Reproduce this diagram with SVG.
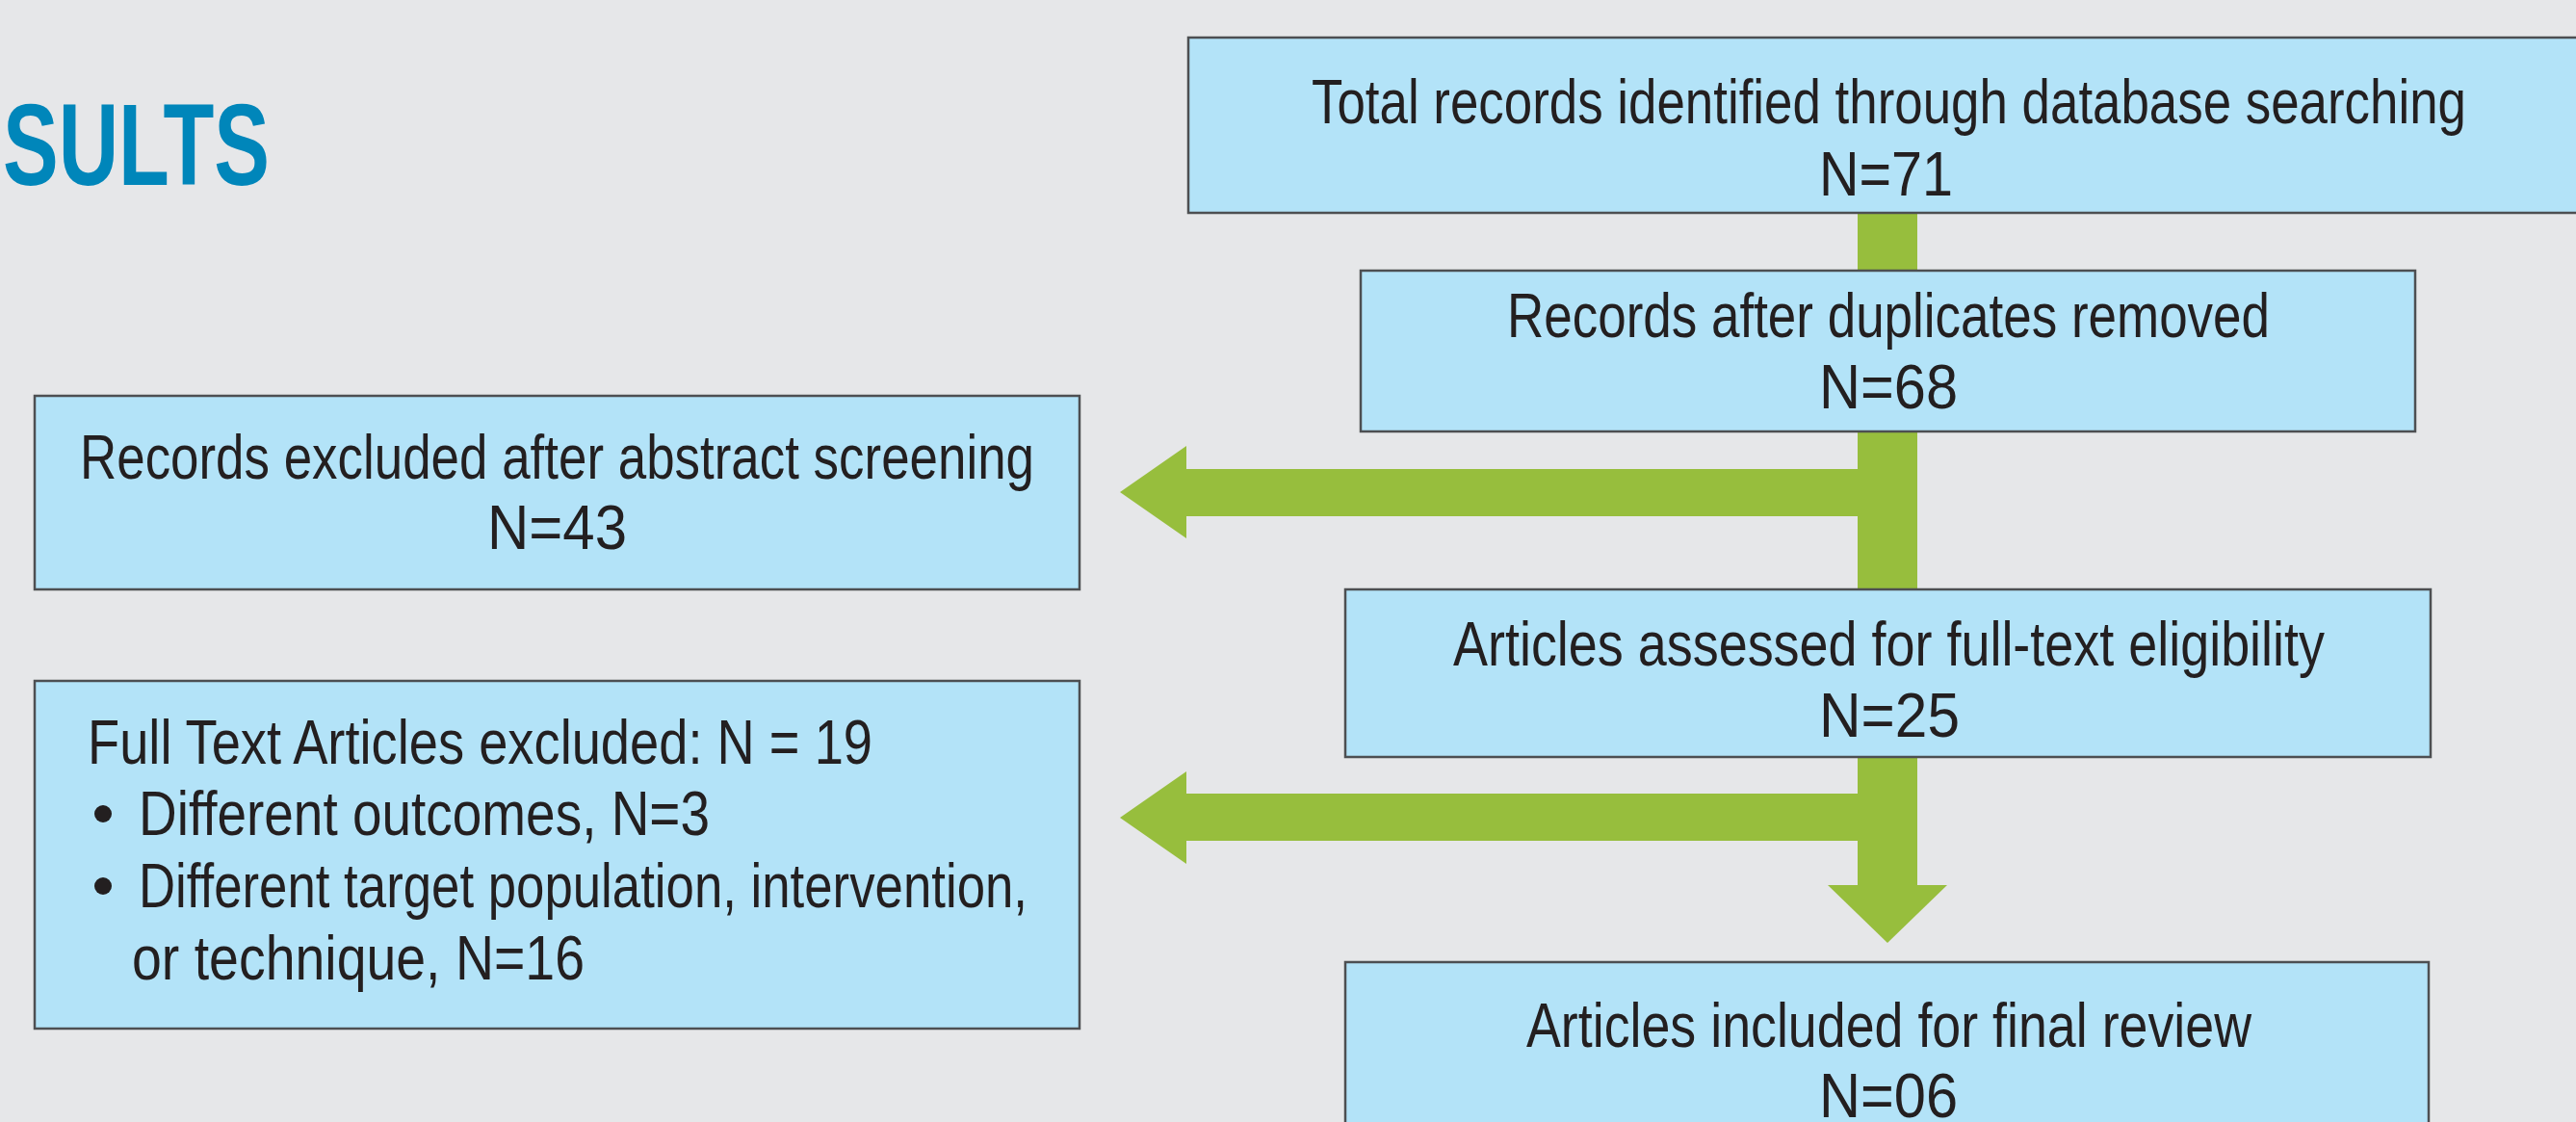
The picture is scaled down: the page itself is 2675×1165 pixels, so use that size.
<svg xmlns="http://www.w3.org/2000/svg" width="2675" height="1165" viewBox="0 0 2675 1165">
  <defs>
    <style>
      .box { fill: #B3E3F8; stroke: #4D4F52; stroke-width: 2.5; }
      .lbl { font-family: "Liberation Sans Narrow", "Liberation Sans", "DejaVu Sans Condensed", sans-serif; font-size: 64px; fill: #231F20; }
      .flow { fill: #97BE3D; }
      .title { font-family: "Liberation Sans Narrow", "Liberation Sans", sans-serif; font-weight: bold; font-size: 121px; fill: #0086BA; }
    </style>
  </defs>

  <!-- page background -->
  <rect x="0" y="0" width="2675" height="1165" fill="#E6E7E9"/>

  <!-- section heading, cut at the left margin -->
  <text class="title" x="3" y="192" textLength="277" lengthAdjust="spacingAndGlyphs">SULTS</text>

  <!-- connectors: central trunk, two side exits, final arrowhead -->
  <g id="connectors">
    <rect class="flow" x="1929" y="221" width="62" height="699"/>
    <path class="flow" d="M1929,487 L1232,487 L1232,463 L1163,511 L1232,559 L1232,536 L1929,536 Z"/>
    <path class="flow" d="M1929,824 L1232,824 L1232,801 L1163,849 L1232,897 L1232,873 L1929,873 Z"/>
    <path class="flow" d="M1898,919 L2022,919 L1960,979 Z"/>
  </g>

  <g id="node-identified">
    <rect class="box" x="1234" y="39" width="1460" height="182"/>
    <text class="lbl" x="1362" y="128" textLength="1199" lengthAdjust="spacingAndGlyphs">Total records identified through database searching</text>
    <text class="lbl" x="1889" y="203" textLength="139" lengthAdjust="spacingAndGlyphs">N=71</text>
  </g>

  <g id="node-deduplicated">
    <rect class="box" x="1413" y="281" width="1095" height="167"/>
    <text class="lbl" x="1565" y="350" textLength="792" lengthAdjust="spacingAndGlyphs">Records after duplicates removed</text>
    <text class="lbl" x="1889" y="424" textLength="144" lengthAdjust="spacingAndGlyphs">N=68</text>
  </g>

  <g id="node-abstract-excluded">
    <rect class="box" x="36" y="411" width="1085" height="201"/>
    <text class="lbl" x="83" y="497" textLength="991" lengthAdjust="spacingAndGlyphs">Records excluded after abstract screening</text>
    <text class="lbl" x="506" y="570" textLength="145" lengthAdjust="spacingAndGlyphs">N=43</text>
  </g>

  <g id="node-fulltext-assessed">
    <rect class="box" x="1397" y="612" width="1127" height="174"/>
    <text class="lbl" x="1509" y="691" textLength="905" lengthAdjust="spacingAndGlyphs">Articles assessed for full-text eligibility</text>
    <text class="lbl" x="1889" y="765" textLength="146" lengthAdjust="spacingAndGlyphs">N=25</text>
  </g>

  <g id="node-fulltext-excluded">
    <rect class="box" x="36" y="707" width="1085" height="361"/>
    <text class="lbl" x="91" y="793" textLength="815" lengthAdjust="spacingAndGlyphs">Full Text Articles excluded: N = 19</text>
    <circle cx="107" cy="845" r="9" fill="#231F20"/>
    <text class="lbl" x="144" y="867" textLength="593" lengthAdjust="spacingAndGlyphs">Different outcomes, N=3</text>
    <circle cx="107" cy="920" r="9" fill="#231F20"/>
    <text class="lbl" x="144" y="942" textLength="923" lengthAdjust="spacingAndGlyphs">Different target population, intervention,</text>
    <text class="lbl" x="137" y="1017" textLength="470" lengthAdjust="spacingAndGlyphs">or technique, N=16</text>
  </g>

  <g id="node-included">
    <rect class="box" x="1397" y="999" width="1125" height="200"/>
    <text class="lbl" x="1585" y="1087" textLength="753" lengthAdjust="spacingAndGlyphs">Articles included for final review</text>
    <text class="lbl" x="1889" y="1160" textLength="144" lengthAdjust="spacingAndGlyphs">N=06</text>
  </g>
</svg>
